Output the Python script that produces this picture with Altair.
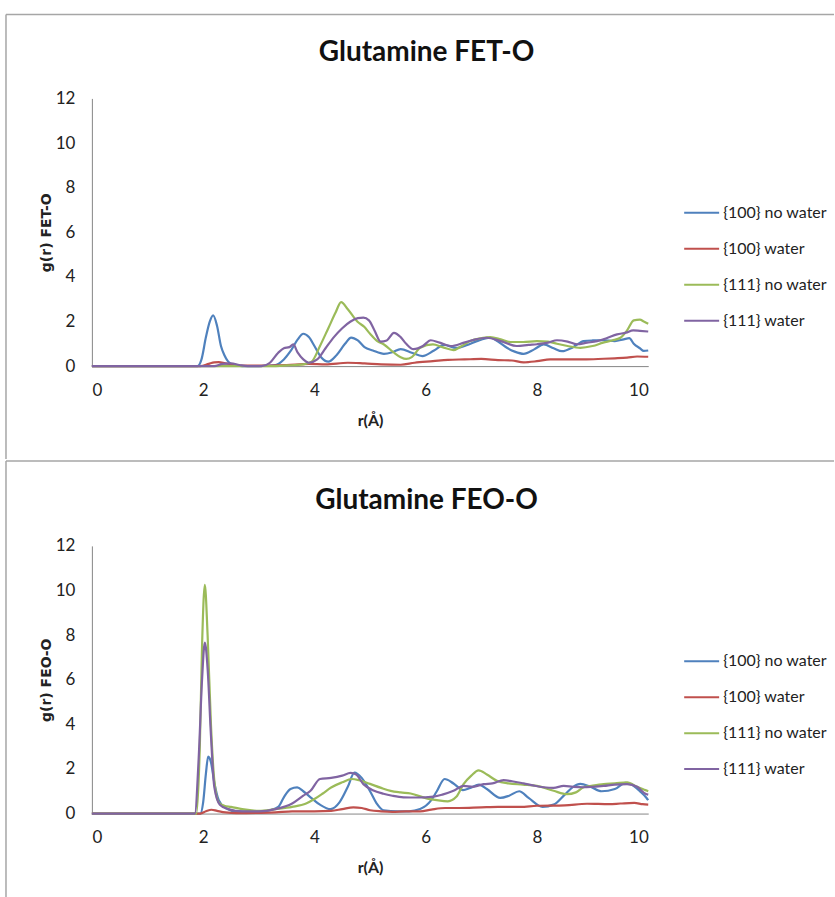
import altair as alt
import pandas as pd

SERIES = ["{100} no water", "{100} water", "{111} no water", "{111} water"]
COLORS = ["#4F81BD", "#C0504D", "#9BBB59", "#8064A2"]
X_TICKS = [0, 2, 4, 6, 8, 10]
Y_TICKS = [0, 2, 4, 6, 8, 10, 12]

# ---------------- Glutamine FET-O ----------------
FET_100NW_R = [0, 1.9, 1.97, 2.05, 2.12, 2.18, 2.25, 2.32, 2.38, 2.45, 2.55, 2.7, 3.0, 3.3, 3.45, 3.57, 3.7,
               3.8, 3.9, 4.0, 4.12, 4.25, 4.4, 4.55, 4.66, 4.78, 4.9, 5.05, 5.25, 5.4, 5.55, 5.75, 5.94, 6.15,
               6.33, 6.55, 6.75, 6.92, 7.16, 7.3, 7.46, 7.6, 7.76, 7.95, 8.12, 8.3, 8.45, 8.65, 8.84, 9.0, 9.19,
               9.4, 9.56, 9.66, 9.74, 9.85, 9.92, 10.0]
FET_100NW_G = [0, 0, 0.3, 1.3, 2.0, 2.27, 1.8, 0.9, 0.5, 0.2, 0.05, 0, 0, 0.05, 0.3, 0.67, 1.2,
               1.45, 1.3, 0.9, 0.4, 0.2, 0.5, 1.0, 1.28, 1.15, 0.85, 0.7, 0.55, 0.62, 0.76, 0.6, 0.45, 0.7,
               0.95, 0.82, 0.95, 1.12, 1.27, 1.1, 0.82, 0.65, 0.55, 0.75, 0.97, 0.8, 0.67, 0.85, 1.12, 1.15, 1.16,
               1.12, 1.2, 1.25, 1.0, 0.8, 0.68, 0.7]

FET_100W_R = [0, 1.95, 2.1, 2.2, 2.28, 2.4, 2.5, 2.65, 3.0, 3.5, 3.9, 4.2, 4.6, 4.9, 5.2, 5.55, 5.8, 6.13, 6.4,
              6.7, 7.0, 7.3, 7.55, 7.76, 8.0, 8.24, 8.5, 8.84, 9.2, 9.4, 9.62, 9.8, 10.0]
FET_100W_G = [0, 0, 0.1, 0.17, 0.18, 0.12, 0.08, 0.02, 0.02, 0.05, 0.1, 0.08, 0.15, 0.12, 0.08, 0.06, 0.15, 0.22,
              0.28, 0.3, 0.32, 0.27, 0.25, 0.17, 0.22, 0.3, 0.3, 0.3, 0.33, 0.35, 0.38, 0.43, 0.42]

FET_111NW_R = [0, 3.2, 3.5, 3.8, 3.95, 4.1, 4.25, 4.38, 4.48, 4.6, 4.77, 4.9, 5.0, 5.13, 5.25, 5.43, 5.55, 5.65,
               5.75, 5.9, 6.13, 6.3, 6.5, 6.65, 6.8, 7.0, 7.16, 7.35, 7.52, 7.75, 8.0, 8.2, 8.36, 8.55, 8.78,
               9.0, 9.19, 9.35, 9.5, 9.62, 9.74, 9.85, 9.92, 10.0]
FET_111NW_G = [0, 0, 0.03, 0.08, 0.2, 0.9, 1.7, 2.4, 2.87, 2.55, 2.0, 1.75, 1.45, 1.12, 0.97, 0.6, 0.4, 0.32,
               0.4, 0.82, 0.97, 0.85, 0.72, 0.9, 1.12, 1.25, 1.3, 1.2, 1.08, 1.08, 1.12, 1.1, 1.0, 0.9, 0.82,
               0.9, 1.05, 1.15, 1.27, 1.6, 2.05, 2.08, 2.0, 1.9]

FET_111W_R = [0, 2.2, 2.35, 2.5, 2.65, 2.8, 3.05, 3.2, 3.35, 3.45, 3.55, 3.62, 3.7, 3.8, 3.9, 4.05, 4.2, 4.35,
              4.5, 4.65, 4.78, 4.88, 4.98, 5.08, 5.19, 5.3, 5.43, 5.55, 5.65, 5.78, 5.95, 6.09, 6.25, 6.45,
              6.69, 6.9, 7.1, 7.35, 7.64, 7.85, 8.0, 8.2, 8.36, 8.55, 8.72, 8.9, 9.08, 9.25, 9.44, 9.6, 9.73,
              9.85, 10.0]
FET_111W_G = [0, 0, 0.1, 0.12, 0.05, 0, 0, 0.15, 0.6, 0.8, 0.85, 0.97, 0.6, 0.3, 0.15, 0.3, 0.8, 1.3,
              1.7, 2.0, 2.15, 2.17, 2.05, 1.6, 1.1, 1.15, 1.49, 1.3, 1.0, 0.76, 0.9, 1.16, 1.05, 0.9,
              1.05, 1.2, 1.27, 1.12, 0.9, 0.95, 0.98, 1.05, 1.16, 1.1, 0.98, 1.05, 1.12, 1.25, 1.42, 1.5, 1.6,
              1.58, 1.55]

# ---------------- Glutamine FEO-O ----------------
FEO_100NW_R = [0, 1.95, 2.0, 2.05, 2.09, 2.14, 2.2, 2.28, 2.4, 2.6, 3.0, 3.2, 3.35, 3.45, 3.57, 3.69, 3.8, 3.93,
               4.1, 4.29, 4.45, 4.6, 4.72, 4.85, 5.0, 5.12, 5.24, 5.5, 5.7, 5.9, 6.1, 6.2, 6.34, 6.5, 6.67, 6.8,
               6.96, 7.1, 7.34, 7.5, 7.68, 7.85, 8.1, 8.3, 8.5, 8.65, 8.78, 8.96, 9.16, 9.4, 9.59, 9.7, 9.85,
               9.97, 10.0]
FEO_100NW_G = [0, 0, 0.5, 1.8, 2.55, 2.3, 1.4, 0.6, 0.25, 0.1, 0.08, 0.15, 0.3, 0.73, 1.1, 1.17, 1.0, 0.73,
               0.4, 0.2, 0.5, 1.2, 1.84, 1.6, 1.0, 0.45, 0.15, 0.1, 0.1, 0.2, 0.6, 1.0, 1.55, 1.35, 1.05, 1.15,
               1.3, 1.1, 0.7, 0.8, 1.0, 0.7, 0.3, 0.4, 0.85, 1.2, 1.33, 1.2, 1.0, 1.1, 1.38, 1.3, 1.0,
               0.7, 0.6]

FEO_100W_R = [0, 1.95, 2.05, 2.15, 2.25, 2.4, 2.6, 3.0, 3.3, 3.6, 4.0, 4.3, 4.5, 4.7, 4.85, 5.0, 5.2, 5.4, 5.65,
              5.9, 6.1, 6.35, 6.6, 7.0, 7.3, 7.7, 8.0, 8.5, 8.9, 9.3, 9.5, 9.75, 9.9, 10.0]
FEO_100W_G = [0, 0, 0.1, 0.17, 0.12, 0.05, 0.02, 0.03, 0.05, 0.1, 0.1, 0.12, 0.2, 0.28, 0.25, 0.15, 0.1, 0.08, 0.1,
              0.1, 0.18, 0.25, 0.25, 0.28, 0.3, 0.3, 0.35, 0.37, 0.44, 0.42, 0.45, 0.48, 0.42, 0.4]

FEO_111NW_R = [0, 1.88, 1.94, 1.98, 2.03, 2.08, 2.14, 2.2, 2.28, 2.38, 2.5, 2.7, 3.0, 3.3, 3.6, 3.85, 4.0, 4.15,
               4.3, 4.5, 4.67, 4.8, 5.0, 5.2, 5.37, 5.55, 5.73, 6.03, 6.2, 6.4, 6.55, 6.68, 6.82, 6.95, 7.1,
               7.28, 7.49, 7.75, 8.0, 8.3, 8.54, 8.7, 8.84, 9.0, 9.2, 9.4, 9.62, 9.8, 9.95, 10.0]
FEO_111NW_G = [0, 0, 3.0, 7.5, 10.25, 8.0, 4.0, 1.5, 0.5, 0.35, 0.3, 0.2, 0.12, 0.2, 0.3, 0.45, 0.65, 0.9,
               1.17, 1.4, 1.55, 1.5, 1.33, 1.15, 1.02, 0.95, 0.9, 0.67, 0.6, 0.55, 0.75, 1.32, 1.7, 1.94, 1.75,
               1.47, 1.35, 1.3, 1.24, 1.02, 0.87, 0.95, 1.18, 1.25, 1.32, 1.35, 1.4, 1.2, 1.05, 1.0]

FEO_111W_R = [0, 1.85, 1.92, 1.98, 2.03, 2.08, 2.14, 2.2, 2.3, 2.45, 2.7, 3.0, 3.3, 3.6, 3.8, 3.93, 4.1, 4.3,
              4.5, 4.65, 4.75, 4.88, 5.05, 5.24, 5.4, 5.6, 5.85, 6.14, 6.3, 6.5, 6.68, 6.85, 7.04, 7.2, 7.4,
              7.55, 7.76, 7.95, 8.12, 8.3, 8.48, 8.65, 8.84, 9.0, 9.2, 9.4, 9.62, 9.8, 9.95, 10.0]
FEO_111W_G = [0, 0, 2.5, 6.0, 7.66, 6.5, 3.5, 1.2, 0.4, 0.2, 0.1, 0.1, 0.2, 0.45, 0.8, 1.02, 1.55, 1.6,
              1.7, 1.82, 1.75, 1.32, 1.05, 0.89, 0.8, 0.73, 0.72, 0.76, 0.85, 1.02, 1.24, 1.2, 1.32, 1.35, 1.5,
              1.45, 1.35, 1.25, 1.18, 1.15, 1.24, 1.2, 1.18, 1.2, 1.24, 1.3, 1.32, 1.2, 0.89, 0.85]

FONT = "Lato"
W, H = 557, 268


def make_df(pairs):
    rows = []
    for name, (rs, gs) in zip(SERIES, pairs):
        for r, g in zip(rs, gs):
            rows.append({"r": r, "g": g, "series": name})
    return pd.DataFrame(rows)


def panel(df, title, ytitle, top_rule_y, left_rule_y2, legend_y):
    one = pd.DataFrame({"k": [0]})
    lines = alt.Chart(df).mark_line(strokeWidth=2.2, interpolate="monotone").encode(
        x=alt.X("r:Q", scale=alt.Scale(domain=[0, 10], nice=False),
                axis=alt.Axis(values=X_TICKS, grid=False, ticks=False, tickSize=0,
                              domainColor="#868686", domainWidth=1,
                              labelFont=FONT, labelFontSize=17, labelColor="#222222", labelPadding=16,
                              title="r(Å)", titleFont=FONT, titleFontSize=16, titleFontWeight="bold",
                              titleColor="#222222", titlePadding=14)),
        y=alt.Y("g:Q", scale=alt.Scale(domain=[0, 12], nice=False),
                axis=alt.Axis(values=Y_TICKS, grid=False, ticks=False, tickSize=0,
                              domainColor="#868686", domainWidth=1,
                              labelFont=FONT, labelFontSize=17, labelColor="#222222", labelPadding=17,
                              title=ytitle, titleFont="DejaVu Sans", titleFontSize=14,
                              titleFontWeight="bold", titleColor="#222222", titlePadding=2)),
        color=alt.Color("series:N", scale=alt.Scale(domain=SERIES, range=COLORS),
                        legend=alt.Legend(title=None, orient="none", legendX=592, legendY=legend_y,
                                          symbolType="stroke", symbolSize=1225, symbolStrokeWidth=2,
                                          rowPadding=9, labelOffset=3, labelFont=FONT, labelFontSize=16,
                                          labelColor="#222222", labelLimit=200)),
    )
    ttl = alt.Chart(one).mark_text(text=title, font=FONT, fontSize=28, fontWeight="bold",
                                   color="#111111", align="center", baseline="middle").encode(
        x=alt.value(335), y=alt.value(-45))
    top_line = alt.Chart(one).mark_rule(color="#a6a6a6", strokeWidth=1.5).encode(
        x=alt.value(-86), x2=alt.value(743), y=alt.value(top_rule_y))
    left_line = alt.Chart(one).mark_rule(color="#a6a6a6", strokeWidth=1.5).encode(
        x=alt.value(-86), y=alt.value(top_rule_y), y2=alt.value(left_rule_y2))
    return alt.layer(top_line, left_line, ttl, lines).properties(width=W, height=H)


fet = make_df([(FET_100NW_R, FET_100NW_G), (FET_100W_R, FET_100W_G),
               (FET_111NW_R, FET_111NW_G), (FET_111W_R, FET_111W_G)])
feo = make_df([(FEO_100NW_R, FEO_100NW_G), (FEO_100W_R, FEO_100W_G),
               (FEO_111NW_R, FEO_111NW_G), (FEO_111W_R, FEO_111W_G)])

top = panel(fet, "Glutamine FET-O", "g(r) FET-O", -84, 361, 96)
bottom = panel(feo, "Glutamine FEO-O", "g(r) FEO-O", -85, 353, 97)

chart = alt.vconcat(top, bottom, spacing=0).resolve_legend(color="independent").properties(
    padding={"left": 5, "top": 13, "right": 0, "bottom": 0}
).configure(background="white").configure_view(stroke=None)

chart.save("out.html", embed_options={"renderer": "svg", "actions": False})
